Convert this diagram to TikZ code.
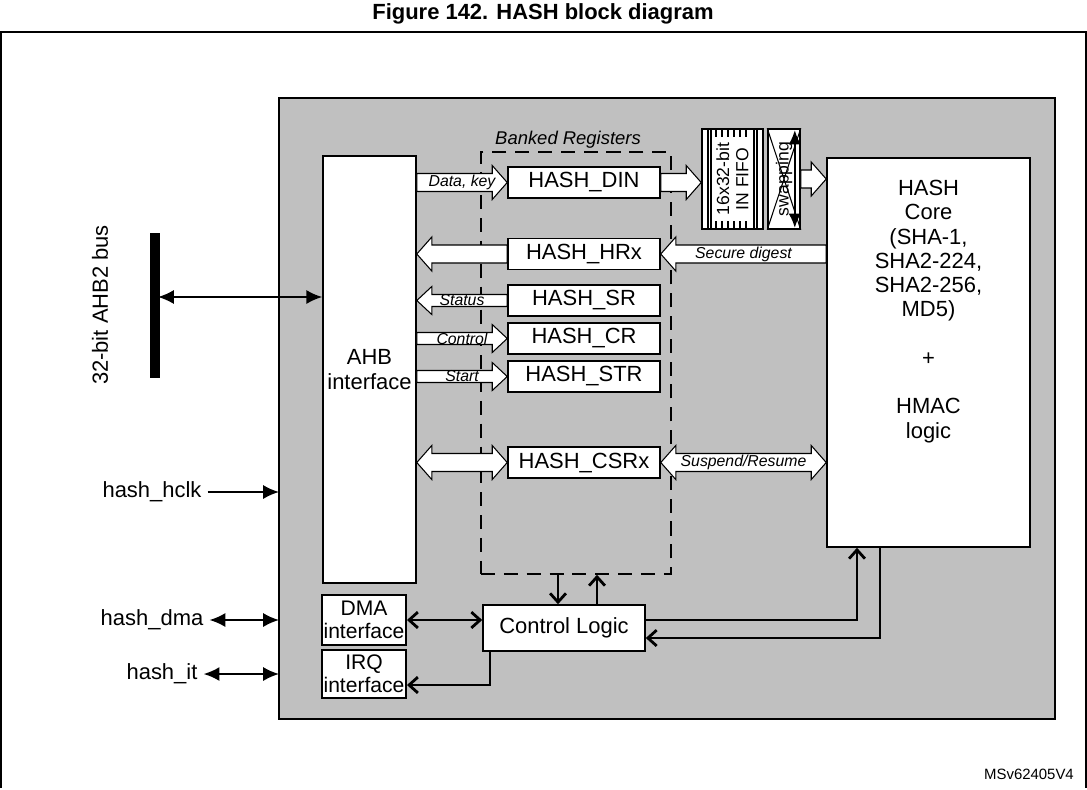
\documentclass[tikz,border=0pt]{standalone}
\usepackage{fontspec}
\setmainfont{Liberation Sans}
\usetikzlibrary{calc,arrows.meta}
\definecolor{panel}{RGB}{192,192,192}
\tikzstyle{box} = [rectangle, draw, fill=white, line width=0.9pt, font=\fontsize{12.5}{14}\selectfont, align=center, inner sep=1pt]
\tikzstyle{reg} = [box, minimum width=3.04cm, minimum height=0.62cm]
\tikzstyle{fat} = [draw, fill=white, line width=0.6pt]
\tikzstyle{wire} = [draw, line width=1.6pt, {Straight Barb[length=5pt,width=9pt]}-{Straight Barb[length=5pt,width=9pt]}]
\tikzstyle{pin} = [draw, line width=1.1pt, {Latex[length=9pt,width=8pt]}-{Latex[length=9pt,width=8pt]}]
\newcommand{\lbl}{\fontsize{9}{10}\selectfont\itshape}
% hollow arrow from #2 to #3 (same height), label #4, body half-width #1
\newcommand{\fatarrow}[4][0.18]{%
  \path[fat] let \p1=(#2), \p2=(#3), \n1={sign(\x2-\x1)*0.3cm}, \n2={(#1cm+0.16cm)} in
    (\x1,\y1+#1cm) -- (\x2-\n1,\y1+#1cm) -- (\x2-\n1,\y1+\n2) -- (\x2,\y1)
    -- (\x2-\n1,\y1-\n2) -- (\x2-\n1,\y1-#1cm) -- (\x1,\y1-#1cm) -- cycle
    (\x1/2+\x2/2,\y1) node[font=\lbl] {#4};}
\newcommand{\fatboth}[4][0.18]{%
  \path[fat] let \p1=(#2), \p2=(#3), \n1={sign(\x2-\x1)*0.3cm}, \n2={(#1cm+0.16cm)} in
    (\x1+\n1,\y1+#1cm) -- (\x2-\n1,\y1+#1cm) -- (\x2-\n1,\y1+\n2) -- (\x2,\y1)
    -- (\x2-\n1,\y1-\n2) -- (\x2-\n1,\y1-#1cm) -- (\x1+\n1,\y1-#1cm) -- (\x1+\n1,\y1-\n2)
    -- (\x1,\y1) -- (\x1+\n1,\y1+\n2) -- cycle
    (\x1/2+\x2/2,\y1) node[font=\lbl] {#4};}
\begin{document}
\begin{tikzpicture}[x=0.02cm, y=-0.02cm]
  \useasboundingbox (0,0) rectangle (1087,789);
  % Frame
  \node[font=\bfseries\fontsize{12.5}{14}\selectfont] (title) at (543,14) {Figure 142. HASH block diagram};
  \draw[line width=0.8pt] (1,788) -- (1,32) -- (1086,32) -- (1086,788);
  \draw[fill=panel, line width=0.9pt] (279,98) rectangle (1055,719);
  \node[font=\fontsize{8.5}{10}\selectfont, anchor=east] (ref) at (1080,774) {MSv62405V4};
  % Blocks
  \node[box, minimum width=1.86cm, minimum height=8.54cm] (ahb) at (369.5,369.5) {AHB\\interface};
  \node[draw, dash pattern=on 8pt off 5pt, line width=0.9pt, minimum width=3.8cm, minimum height=8.44cm] (bank) at (576,363) {};
  \node[font=\fontsize{10.5}{12}\selectfont\itshape] (banklbl) at (568,140) {Banked Registers};
  \node[reg] (din) at (584,182.5) {HASH\_DIN};
  \node[reg] (hrx) at (584,254) {HASH\_HRx};
  \node[reg] (sr) at (584,300.5) {HASH\_SR};
  \node[reg] (cr) at (584,338.5) {HASH\_CR};
  \node[reg] (str) at (584,376.5) {HASH\_STR};
  \node[reg] (csrx) at (584,462.5) {HASH\_CSRx};
  \node[box, minimum width=4.06cm, minimum height=7.78cm] (core) at (928.5,352.5) {};
  \node[font=\fontsize{12.5}{13.8}\selectfont, align=center, anchor=north] (coretxt) at (928.5,174)
    {HASH\\Core\\(SHA-1,\\SHA2-224,\\SHA2-256,\\MD5)\\[13.8pt]+\\[13.8pt]HMAC\\logic};
  \node[box, minimum width=1.22cm, minimum height=2cm] (fifo) at (732.5,179) {};
  \node[box, minimum width=0.64cm, minimum height=2cm] (swap) at (784,179) {};
  \node[box, minimum width=1.68cm, minimum height=1cm, font=\fontsize{12}{13}\selectfont] (dma) at (364,620) {DMA\\interface};
  \node[box, minimum width=1.68cm, minimum height=0.96cm, font=\fontsize{12}{13}\selectfont] (irq) at (364,674) {IRQ\\interface};
  \node[box, minimum width=3.24cm, minimum height=0.92cm] (ctrl) at (564,628) {Control Logic};
  % FIFO and swapping details
  \draw[line width=0.6pt] (708,129) -- (708,229) (711,129) -- (711,229) (754,129) -- (754,229) (757,129) -- (757,229);
  \foreach \x in {716,722,728,734,740,746} {
    \draw[line width=0.6pt] (\x,129) -- (\x,137) (\x,221) -- (\x,229);
  }
  \node[rotate=90, font=\fontsize{10}{11}\selectfont, align=center] (fifotxt) at (fifo) {16x32-bit\\IN FIFO};
  \draw[line width=0.6pt] (swap.north west) -- (swap.south east) (swap.south west) -- (swap.north east);
  \draw[line width=1pt, {Latex[length=8pt,width=7pt]}-{Latex[length=8pt,width=7pt]}] ($(swap.north east)+(-6,2)$) -- ($(swap.south east)+(-6,-2)$);
  \node[rotate=90, font=\fontsize{10}{11}\selectfont] (swaptxt) at (swap) {swapping};
  % Hollow data paths
  \fatarrow{ahb.east |- din}{din.west}{Data, key}
  \fatarrow{din.east}{fifo.west}{}
  \fatarrow{swap.east}{core.west |- swap}{}
  \fatarrow{core.west |- hrx}{hrx.east}{Secure digest}
  \fatarrow{hrx.west}{ahb.east |- hrx}{}
  \fatarrow[0.12]{sr.west}{ahb.east |- sr}{Status}
  \fatarrow[0.12]{ahb.east |- cr}{cr.west}{Control}
  \fatarrow[0.12]{ahb.east |- str}{str.west}{Start}
  \fatboth{ahb.east |- csrx}{csrx.west}{}
  \fatboth{csrx.east}{core.west |- csrx}{Suspend/Resume}
  % Bus and pins
  \draw[line width=6pt] (155,233) -- (155,378);
  \node[rotate=90, font=\fontsize{12.5}{14}\selectfont] (buslbl) at (100,305) {32-bit AHB2 bus};
  \coordinate (bus) at (158,297);
  \draw[pin] (bus) -- (ahb.west |- bus);
  \node[font=\fontsize{12.5}{14}\selectfont] (hclk) at (152,492) {hash\_hclk};
  \draw[pin, -{Latex[length=9pt,width=8pt]}] (hclk.east) -- (279,492);
  \node[font=\fontsize{12.5}{14}\selectfont] (hdma) at (152,620) {hash\_dma};
  \draw[pin] (hdma.east) -- (279,620);
  \node[font=\fontsize{12.5}{14}\selectfont] (hit) at (162,674) {hash\_it};
  \draw[pin] (hit.east) -- (279,674);
  % Control wiring
  \draw[wire] (dma.east) -- (ctrl.west |- dma.east);
  \draw[wire, {Straight Barb[length=5pt,width=9pt]}-] (irq.east |- 0,685) -| (ctrl.south -| 490,0);
  \draw[wire, -{Straight Barb[length=5pt,width=9pt]}] (bank.south -| 558,0) -- (ctrl.north -| 558,0);
  \draw[wire, -{Straight Barb[length=5pt,width=9pt]}] (ctrl.north -| 597,0) -- (bank.south -| 597,0);
  \draw[wire, -{Straight Barb[length=5pt,width=9pt]}] (ctrl.east |- 0,620) -| (core.south -| 857,0);
  \draw[wire, -{Straight Barb[length=5pt,width=9pt]}] (core.south -| 880,0) |- (ctrl.east |- 0,638);
\end{tikzpicture}
\end{document}
